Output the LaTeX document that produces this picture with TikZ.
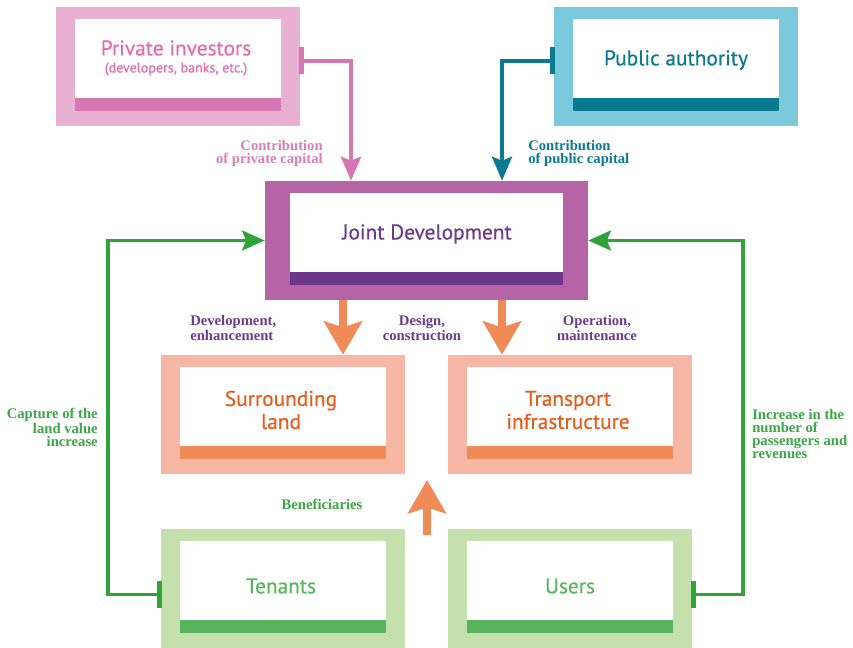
\documentclass[tikz,border=0pt]{standalone}
\usepackage{fontspec}
\setmainfont{Liberation Serif}
\newfontfamily\boxfont[FakeBold=0.5]{PT Sans}
\usetikzlibrary{arrows.meta,fit,calc}
\definecolor{piframe}{HTML}{E8B1D1}
\definecolor{pibar}{HTML}{D676B2}
\definecolor{pitext}{HTML}{E56DA9}
\definecolor{pilabel}{HTML}{D77FB8}
\definecolor{paframe}{HTML}{7BCADC}
\definecolor{pabar}{HTML}{0B7A90}
\definecolor{jdframe}{HTML}{B564A6}
\definecolor{jdbar}{HTML}{6C3789}
\definecolor{jdtext}{HTML}{6E3A8C}
\definecolor{orframe}{HTML}{F6B7A4}
\definecolor{orbar}{HTML}{F08B57}
\definecolor{ortext}{HTML}{E85C1C}
\definecolor{grframe}{HTML}{C3E0AD}
\definecolor{grbar}{HTML}{58B35E}
\definecolor{grtext}{HTML}{5AB65F}
\definecolor{grline}{HTML}{2FA33A}
\definecolor{grlabel}{HTML}{3BA746}
\newcommand\mkbox[8]{%
  \node[fit={(#2,#3)(#4,#5)}, inner sep=0pt, fill=#7] (#1) {};
  \fill[white] (#2+#6,#3+12) rectangle (#4-#6,#5-15);
  \fill[#8] (#2+#6,#5-28) rectangle (#4-#6,#5-15);
}
\begin{document}
\begin{tikzpicture}[x=0.75pt,y=-0.75pt,
  boxtxt/.style={font=\boxfont\fontsize{16}{17.25}\selectfont, align=center, inner sep=0pt},
  lbl/.style={font=\bfseries\fontsize{11}{9.75}\selectfont, inner sep=0pt},
  tick/.style={line width=3.75pt},
  pinkarrow/.style={draw=pibar, line width=3pt, -{Stealth[length=18pt,width=15pt,inset=3pt]}},
  tealarrow/.style={draw=pabar, line width=3pt, -{Stealth[length=18pt,width=15pt,inset=3pt]}},
  greenarrow/.style={draw=grline, line width=2.6pt, -{Stealth[length=17pt,width=15pt,inset=3pt]}},
  orarrow/.style={draw=orbar, line width=6pt, -{Stealth[length=25pt,width=28.5pt,inset=4.5pt]}},
]
\useasboundingbox (0,0) rectangle (853,648);
\fill[white] (0,0) rectangle (853,648);

% boxes
\mkbox{pi}{56}{7}{300}{126}{19}{piframe}{pibar}
\mkbox{pa}{554}{7}{798}{126}{19}{paframe}{pabar}
\mkbox{jd}{265}{181}{588}{300}{25}{jdframe}{jdbar}
\mkbox{sl}{161}{355}{405}{474}{19}{orframe}{orbar}
\mkbox{ti}{448}{355}{692}{474}{19}{orframe}{orbar}
\mkbox{tn}{161}{529}{405}{648}{19}{grframe}{grbar}
\mkbox{us}{448}{529}{692}{648}{19}{grframe}{grbar}

% box texts
\node[boxtxt, text=pitext] (pit1) at (176,48) {Private investors};
\node[boxtxt, text=pitext, font=\boxfont\fontsize{10.5}{11}\selectfont] (pit2) at (176,69) {(developers, banks, etc.)};
\node[boxtxt, text=pabar] (pat) at (676,60) {Public authority};
\node[boxtxt, text=jdtext] (jdt) at (427,234) {Joint Development};
\node[boxtxt, text=ortext] (slt) at (281,410) {Surrounding\\land};
\node[boxtxt, text=ortext] (tit) at (568,410) {Transport\\infrastructure};
\node[boxtxt, text=grtext] (tnt) at (281,586) {Tenants};
\node[boxtxt, text=grtext] (ust) at (570,586) {Users};

% helper coordinates
\coordinate (pix) at (351,0);
\coordinate (pax) at (502,0);
\coordinate (o1) at (343,0);
\coordinate (o2) at (502,0);
\coordinate (glx) at (108,400);
\coordinate (grx) at (743,400);
\coordinate (piy) at (0,61);
\coordinate (pay) at (0,61);
\coordinate (gy) at (0,594.5);
\coordinate (ub) at (427,535);
\coordinate (ut) at (427,480);

% ticks
\draw[tick, pibar] ($(pi.east|-piy)+(1.5,-13.5)$) -- ($(pi.east|-piy)+(1.5,13.5)$);
\draw[tick, pabar] ($(pa.west|-pay)+(-1.5,-13.5)$) -- ($(pa.west|-pay)+(-1.5,13.5)$);
\draw[tick, grline] ($(tn.west|-gy)+(-1.5,-13.5)$) -- ($(tn.west|-gy)+(-1.5,13.5)$);
\draw[tick, grline] ($(us.east|-gy)+(1.5,-13.5)$) -- ($(us.east|-gy)+(1.5,13.5)$);

% connectors
\draw[pinkarrow] ($(pi.east|-piy)+(3,0)$) -| (jd.north-|pix);
\draw[tealarrow] ($(pa.west|-pay)+(-3,0)$) -| (jd.north-|pax);
\draw[orarrow] (jd.south-|o1) -- (sl.north-|o1);
\draw[orarrow] (jd.south-|o2) -- (ti.north-|o2);
\draw[orarrow] (ub) -- (ut);
\draw[greenarrow] ($(tn.west|-gy)+(-3,0)$) -| (glx) |- (jd.west);
\draw[greenarrow] ($(us.east|-gy)+(3,0)$) -| (grx) |- (jd.east);

% labels
\node[lbl, text=pilabel, align=right, anchor=east] (l1) at (323,153.5) {Contribution\\of private capital};
\node[lbl, text=pabar, align=left, anchor=west] (l2) at (528,153.5) {Contribution\\of public capital};
\node[lbl, text=jdtext, align=left, anchor=west] (l3) at (190,328) {Development,\\enhancement};
\node[lbl, text=jdtext, align=center] (l4) at (422,328) {Design,\\construction};
\node[lbl, text=jdtext, align=center] (l5) at (597,328) {Operation,\\maintenance};
\node[lbl, text=grlabel, align=right, anchor=east] (l6) at (98,427.5) {Capture of the\\land value\\increase};
\node[lbl, text=grlabel, align=left, anchor=west] (l7) at (752,434) {Increase in the\\number of\\passengers and\\revenues};
\node[lbl, text=grlabel] (l8) at (322,504) {Beneficiaries};
\end{tikzpicture}
\end{document}
